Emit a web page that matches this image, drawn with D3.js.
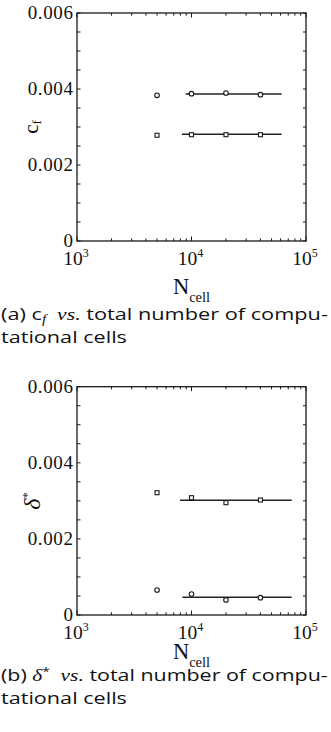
<!DOCTYPE html>
<html>
<head>
<meta charset="utf-8">
<script src="https://cdn.jsdelivr.net/npm/d3@7/dist/d3.min.js"></script>
<style>
  html, body { margin: 0; padding: 0; background: #fff; }
  svg { display: block; }
  .serif { font-family: "Liberation Serif", "Times New Roman", serif; fill: #111; }
  .sans { font-family: "Open Sans", "Noto Sans", sans-serif; fill: #111; }
</style>
</head>
<body>
<svg id="fig" width="331" height="732"></svg>
<script>
// Grid sizes (total number of computational cells)
const cellCounts = [5000, 10000, 20000, 40000];

// Panel (a): skin friction coefficient
const cfCircles = [0.003834, 0.003876, 0.003895, 0.003850];
const cfSquares = [0.002782, 0.002797, 0.002797, 0.002797];
const cfCircleFit = { value: 0.003868, from: 8900, to: 61200 };
const cfSquareFit = { value: 0.002808, from: 8260, to: 61200 };

// Panel (b): displacement thickness
const deltaSquares = [0.003214, 0.003083, 0.002951, 0.003022];
const deltaCircles = [0.000657, 0.000552, 0.000394, 0.000455];
const deltaSquareFit = { value: 0.003015, from: 7950, to: 75000 };
const deltaCircleFit = { value: 0.000465, from: 8340, to: 75000 };

// Axis ticks
const xDomain = [1e3, 1e5];
const xMajorExponents = [3, 4, 5];
const yDomain = [0, 0.006];
const yTickLabels = ["0", "0.002", "0.004", "0.006"];
const yMajorValues = [0, 0.002, 0.004, 0.006];

const svg = d3.select("#fig");
const ink = "#1a1a1a";

// Stretch a text node horizontally so it spans the given width
function fitWidth(sel, x0, width) {
  const w = sel.node().getComputedTextLength();
  sel.attr("transform", `translate(${x0},0) scale(${width / w},1)`).attr("x", 0);
}

function drawPanel(cfg) {
  const g = svg.append("g");
  const x = d3.scaleLog().domain(xDomain).range([cfg.left, cfg.right]);
  const y = d3.scaleLinear().domain(yDomain).range([cfg.bottom, cfg.top]);

  // frame
  g.append("rect")
    .attr("x", cfg.left).attr("y", cfg.top)
    .attr("width", cfg.right - cfg.left).attr("height", cfg.bottom - cfg.top)
    .attr("fill", "none").attr("stroke", ink).attr("stroke-width", 1.3);

  // x ticks on bottom and top, pointing inward
  const xMinor = [];
  for (let e = 3; e < 5; e++) for (let m = 2; m <= 9; m++) xMinor.push(m * Math.pow(10, e));
  const xMajor = xMajorExponents.map(e => Math.pow(10, e));
  const xt = [...xMajor.map(v => ({ v, len: 4.5 })), ...xMinor.map(v => ({ v, len: 2.7 }))];
  g.selectAll(null).data(xt).join("line")
    .attr("x1", d => x(d.v)).attr("x2", d => x(d.v))
    .attr("y1", cfg.bottom).attr("y2", d => cfg.bottom - d.len)
    .attr("stroke", ink).attr("stroke-width", 1);
  g.selectAll(null).data(xt).join("line")
    .attr("x1", d => x(d.v)).attr("x2", d => x(d.v))
    .attr("y1", cfg.top).attr("y2", d => cfg.top + d.len)
    .attr("stroke", ink).attr("stroke-width", 1);

  // y ticks every 0.0005 on left and right, pointing inward
  const yt = d3.range(0, 13).map(i => i * 0.0005);
  g.selectAll(null).data(yt).join("line")
    .attr("x1", cfg.left).attr("x2", cfg.left + 3.5)
    .attr("y1", d => y(d)).attr("y2", d => y(d))
    .attr("stroke", ink).attr("stroke-width", 1);
  g.selectAll(null).data(yt).join("line")
    .attr("x1", cfg.right).attr("x2", cfg.right - 3)
    .attr("y1", d => y(d)).attr("y2", d => y(d))
    .attr("stroke", ink).attr("stroke-width", 1);

  // y tick labels
  g.selectAll(null).data(yMajorValues).join("text")
    .attr("class", "serif")
    .attr("x", cfg.left - 3.5).attr("y", d => y(d))
    .attr("dy", "0.34em")
    .attr("text-anchor", "end")
    .attr("font-size", 19)
    .attr("letter-spacing", 0.6)
    .text((d, i) => yTickLabels[i]);

  // x tick labels: 10 with superscript exponent
  xMajorExponents.forEach(e => {
    const t = g.append("text").attr("class", "serif")
      .attr("x", x(Math.pow(10, e)) - 1).attr("y", cfg.bottom + 24)
      .attr("text-anchor", "middle").attr("font-size", 19.5);
    t.append("tspan").text("10");
    t.append("tspan").attr("font-size", 12).attr("dy", -8.5).text(e);
  });

  // x axis title N_cell
  const xl = g.append("text").attr("class", "serif")
    .attr("x", (cfg.left + cfg.right) / 2).attr("y", cfg.xTitleY)
    .attr("text-anchor", "middle").attr("font-size", 22.5);
  xl.append("tspan").text("N");
  xl.append("tspan").attr("font-size", 14.5).attr("dy", 8).text("cell");

  // y axis title (rotated)
  const cy = (cfg.top + cfg.bottom) / 2;
  const yl = g.append("text").attr("class", "serif")
    .attr("transform", `translate(${cfg.yTitleX},${cy}) rotate(-90)`)
    .attr("text-anchor", "middle").attr("font-size", cfg.yTitleSize);
  cfg.yTitle(yl);

  // fit lines
  cfg.fits.forEach(f => {
    g.append("line")
      .attr("x1", x(f.from)).attr("x2", x(f.to))
      .attr("y1", y(f.value)).attr("y2", y(f.value))
      .attr("stroke", "#222").attr("stroke-width", 1.4);
  });

  // markers
  cfg.series.forEach(s => {
    const pts = cellCounts.map((n, i) => ({ n, v: s.values[i] }));
    if (s.shape === "circle") {
      g.selectAll(null).data(pts).join("circle")
        .attr("cx", d => x(d.n)).attr("cy", d => y(d.v)).attr("r", 2.3)
        .attr("fill", "#fff").attr("stroke", ink).attr("stroke-width", 1.1);
    } else {
      g.selectAll(null).data(pts).join("rect")
        .attr("x", d => x(d.n) - 2).attr("y", d => y(d.v) - 2)
        .attr("width", 4).attr("height", 4)
        .attr("fill", "#fff").attr("stroke", ink).attr("stroke-width", 1.1);
    }
  });

  // caption, two lines
  const c1 = svg.append("text").attr("class", "sans")
    .attr("y", cfg.captionY).attr("font-size", 17);
  cfg.caption(c1);
  fitWidth(c1, 1, 327);
  const c2 = svg.append("text").attr("class", "sans")
    .attr("y", cfg.captionY + 23.3).attr("font-size", 17)
    .text("tational cells");
  fitWidth(c2, 1, 126);
}

drawPanel({
  left: 77, right: 306, top: 13, bottom: 241,
  xTitleY: 294, yTitleX: 38, yTitleSize: 21, captionY: 320,
  yTitle: t => {
    t.append("tspan").text("c");
    t.append("tspan").attr("font-size", 13).attr("dy", 3).text("f");
  },
  fits: [cfCircleFit, cfSquareFit],
  series: [
    { shape: "circle", values: cfCircles },
    { shape: "square", values: cfSquares }
  ],
  caption: t => {
    t.append("tspan").text("(a) c");
    t.append("tspan").attr("class", "serif").attr("font-style", "italic")
      .attr("font-size", 12).attr("dy", 3).text("f");
    t.append("tspan").attr("class", "serif").attr("font-style", "italic")
      .attr("dy", -3).text("\u2002vs.");
    t.append("tspan").text(" total number of compu-");
  }
});

drawPanel({
  left: 77, right: 306, top: 386.7, bottom: 615,
  xTitleY: 658.5, yTitleX: 40, yTitleSize: 24, captionY: 681,
  yTitle: t => {
    t.append("tspan").attr("font-style", "italic").text("\u03b4");
    t.append("tspan").attr("font-size", 13).attr("dy", -9).text("*");
  },
  fits: [deltaSquareFit, deltaCircleFit],
  series: [
    { shape: "square", values: deltaSquares },
    { shape: "circle", values: deltaCircles }
  ],
  caption: t => {
    t.append("tspan").text("(b) ");
    t.append("tspan").attr("class", "serif").attr("font-style", "italic").text("\u03b4");
    t.append("tspan").attr("font-size", 11).attr("dy", -6).text("*");
    t.append("tspan").attr("class", "serif").attr("font-style", "italic")
      .attr("dy", 6).text("\u2002vs.");
    t.append("tspan").text(" total number of compu-");
  }
});
</script>
</body>
</html>
